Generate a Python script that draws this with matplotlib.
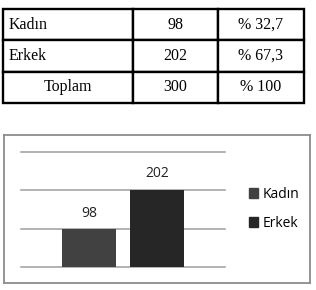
import matplotlib.pyplot as plt
from matplotlib.patches import Patch

categories = ["Kadın", "Erkek"]
counts = [98, 202]
percents = ["% 32,7", "% 67,3"]
total_label = "Toplam"
total_count = 300
total_percent = "% 100"
bar_colors = ["#414141", "#262626"]

W, H = 316, 290
fig = plt.figure(figsize=(W / 100, H / 100), dpi=100)

# table on top
tab_ax = fig.add_axes([0, 0, 1, 1])
tab_ax.axis("off")
rows = [[c, str(n), p] for c, n, p in zip(categories, counts, percents)]
rows.append([total_label, str(total_count), total_percent])
tbl = tab_ax.table(
    cellText=rows,
    colWidths=[130 / W, 85 / W, 86 / W],
    bbox=[3 / W, (H - 103) / H, 301 / W, 94 / H],
    cellLoc="center",
)
tbl.auto_set_font_size(False)
for (r, c), cell in tbl.get_celld().items():
    cell.set_linewidth(1.7)
    cell.set_edgecolor("black")
    cell.get_text().set_fontfamily("Liberation Serif")
    cell.get_text().set_fontsize(11.5)
    if c == 0 and r < len(categories):
        cell.get_text().set_horizontalalignment("left")
        cell.PAD = 0.04

# chart frame
frame = fig.add_axes([4 / W, (H - 283) / H, 306 / W, 148 / H])
frame.set_xticks([])
frame.set_yticks([])
for s in frame.spines.values():
    s.set_color("#8c8c8c")
    s.set_linewidth(1.3)

ax = fig.add_axes([21 / W, (H - 267) / H, 204 / W, 115 / H])
ax.set_facecolor("none")
bars = ax.bar(range(len(categories)), counts, width=0.8, color=bar_colors, zorder=3)
ax.bar_label(bars, padding=6, fontsize=10, family="Open Sans", color="#222222")
ax.set_xlim(-1, 2)
ax.set_ylim(0, 300)
ax.set_yticks([0, 100, 200, 300])
ax.yaxis.grid(True, color="#a6a6a6", linewidth=1.2)
ax.tick_params(left=False, bottom=False, labelleft=False, labelbottom=False)
for s in ax.spines.values():
    s.set_visible(False)
for gl in ax.get_ygridlines():
    gl.set_clip_on(False)

handles = [Patch(color=col, label=lab) for col, lab in zip(bar_colors, categories)]
fig.legend(
    handles=handles,
    loc="center left",
    bbox_to_anchor=(236 / W, (H - 209) / H),
    frameon=False,
    prop={"family": "Open Sans", "size": 10},
    handlelength=0.7,
    handleheight=0.7,
    handletextpad=0.3,
    labelspacing=1.0,
)

fig.savefig("out.png", dpi=100)
